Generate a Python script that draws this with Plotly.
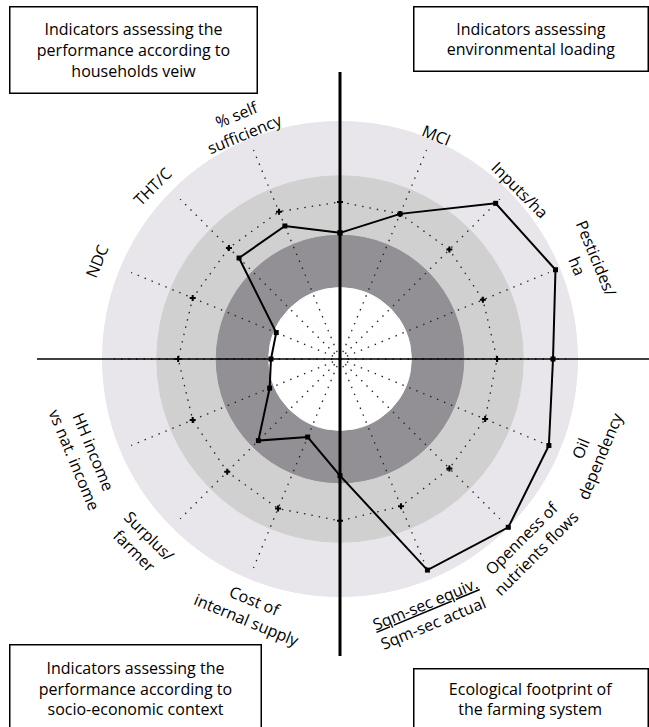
import plotly.graph_objects as go

# ---------------- data ----------------
spoke_angles = [90, 67.5, 45, 22.5, 0, -22.5, -45, -67.5,
                -90, -112.5, -135, -157.5, 180, 157.5, 135, 112.5]
# farm performance (normalised score on each spoke)
performance = [0.53, 0.66, 0.925, 0.98, 0.895, 0.95, 1.00, 0.96,
               0.49, 0.355, 0.485, 0.32, 0.29, 0.29, 0.60, 0.605]
# reference level (dotted polygon with crosses)
reference = [0.66, 0.66, 0.65, 0.65, 0.66, 0.66, 0.65, 0.67,
             0.68, 0.68, 0.67, 0.67, 0.68, 0.67, 0.66, 0.67]

label_texts = ["% self<br>sufficiency", "THT/C", "NDC",
               "HH income<br>vs nat. income", "Surplus/<br>farmer",
               "Cost of<br>internal supply",
               "<u>Sqm-sec equiv.</u><br>Sqm-sec actual",
               "Openness of<br>nutrients flows", "Oil<br>dependency",
               "Pesticides/<br>ha", "Inputs/ha", "MCI"]

box_texts = ["Indicators assessing the<br>performance according to<br>households veiw",
             "Indicators assessing<br>environmental loading",
             "Indicators assessing the<br>performance according to<br>socio-economic context",
             "Ecological footprint of<br>the farming system"]

band_edges = [1.0, 0.77, 0.52, 0.30]

# ---------------- styles / layout ----------------
W, H = 649, 727
CX, CY, R = 340, 359, 238
band_colors = ["#e8e6ea", "#d0d0d0", "#929094", "#ffffff"]
FONT = "Open Sans"

label_pos = [(240, 124, -22.5), (152, 187, -45), (97, 261, -67.5),
             (84, 455, 67.5), (142, 543, 45), (251, 610, 22.5),
             (429, 613, -22.5), (528, 546, -45), (590, 452, -67.5),
             (587, 262, 67.5), (520, 190, 45), (436, 135, 22.5)]

box_geo = [  # center x, center y, width, height (px)
    (133, 50.5, 242, 81),
    (530.5, 39.5, 229, 59),
    (135, 688, 246, 82),
    (530.5, 698.5, 229, 55),
]

fig = go.Figure()

# concentric bands
for edge, col in zip(band_edges, band_colors):
    fig.add_trace(go.Barpolar(
        r=[edge] * len(spoke_angles), theta=spoke_angles,
        width=[22.5] * len(spoke_angles),
        marker=dict(color=col, line=dict(color=col, width=1)),
        hoverinfo="skip", showlegend=False))

# dotted spokes
sr, st = [], []
for a in spoke_angles:
    sr += [0, 0.95, None]
    st += [a, a, None]
fig.add_trace(go.Scatterpolar(
    r=sr, theta=st, mode="lines",
    line=dict(color="#222222", width=1.3, dash="1.5px,6px"),
    hoverinfo="skip", showlegend=False))

# reference polygon
fig.add_trace(go.Scatterpolar(
    r=reference + reference[:1], theta=spoke_angles + spoke_angles[:1],
    mode="lines+markers",
    line=dict(color="#222222", width=1.3, dash="1.5px,6px"),
    marker=dict(symbol="cross", size=5, color="black"),
    showlegend=False))

# performance polygon
fig.add_trace(go.Scatterpolar(
    r=performance + performance[:1], theta=spoke_angles + spoke_angles[:1],
    mode="lines+markers",
    line=dict(color="black", width=2),
    marker=dict(symbol="square", size=5, color="black"),
    showlegend=False))

fig.update_layout(
    width=W, height=H,
    margin=dict(l=0, r=0, t=0, b=0),
    paper_bgcolor="white",
    showlegend=False,
    font=dict(family=FONT, size=16, color="black"),
    polar=dict(
        domain=dict(x=[(CX - R) / W, (CX + R) / W],
                    y=[(H - CY - R) / H, (H - CY + R) / H]),
        bgcolor="rgba(0,0,0,0)",
        barmode="overlay",
        radialaxis=dict(range=[0, 1.0], visible=False),
        angularaxis=dict(visible=False, direction="counterclockwise",
                         rotation=0),
    ),
)

# crosshair axes
fig.add_shape(type="line", xref="paper", yref="paper",
              x0=CX / W, x1=CX / W, y0=1 - 72 / H, y1=1 - 656 / H,
              line=dict(color="black", width=3), layer="above")
fig.add_shape(type="line", xref="paper", yref="paper",
              x0=37 / W, x1=1.0, y0=1 - CY / H, y1=1 - CY / H,
              line=dict(color="black", width=1.5), layer="above")

# spoke labels
for txt, (px, py, ang) in zip(label_texts, label_pos):
    fig.add_annotation(text=txt, xref="paper", yref="paper",
                       x=px / W, y=1 - py / H, xanchor="center",
                       yanchor="middle", showarrow=False, textangle=ang,
                       font=dict(family=FONT, size=16, color="black"))

# corner boxes
for txt, (bx, by, bw, bh) in zip(box_texts, box_geo):
    fig.add_annotation(text=txt, xref="paper", yref="paper",
                       x=bx / W, y=1 - by / H, xanchor="center",
                       yanchor="middle", showarrow=False,
                       width=bw, height=bh, align="center", valign="middle",
                       bgcolor="white", bordercolor="black", borderwidth=1.5,
                       borderpad=2,
                       font=dict(family=FONT, size=16, color="black"))

fig.write_html("out.html", config={"displayModeBar": False},
               post_script="document.body.style.margin='0px';"
                           "document.body.style.overflow='hidden';")
